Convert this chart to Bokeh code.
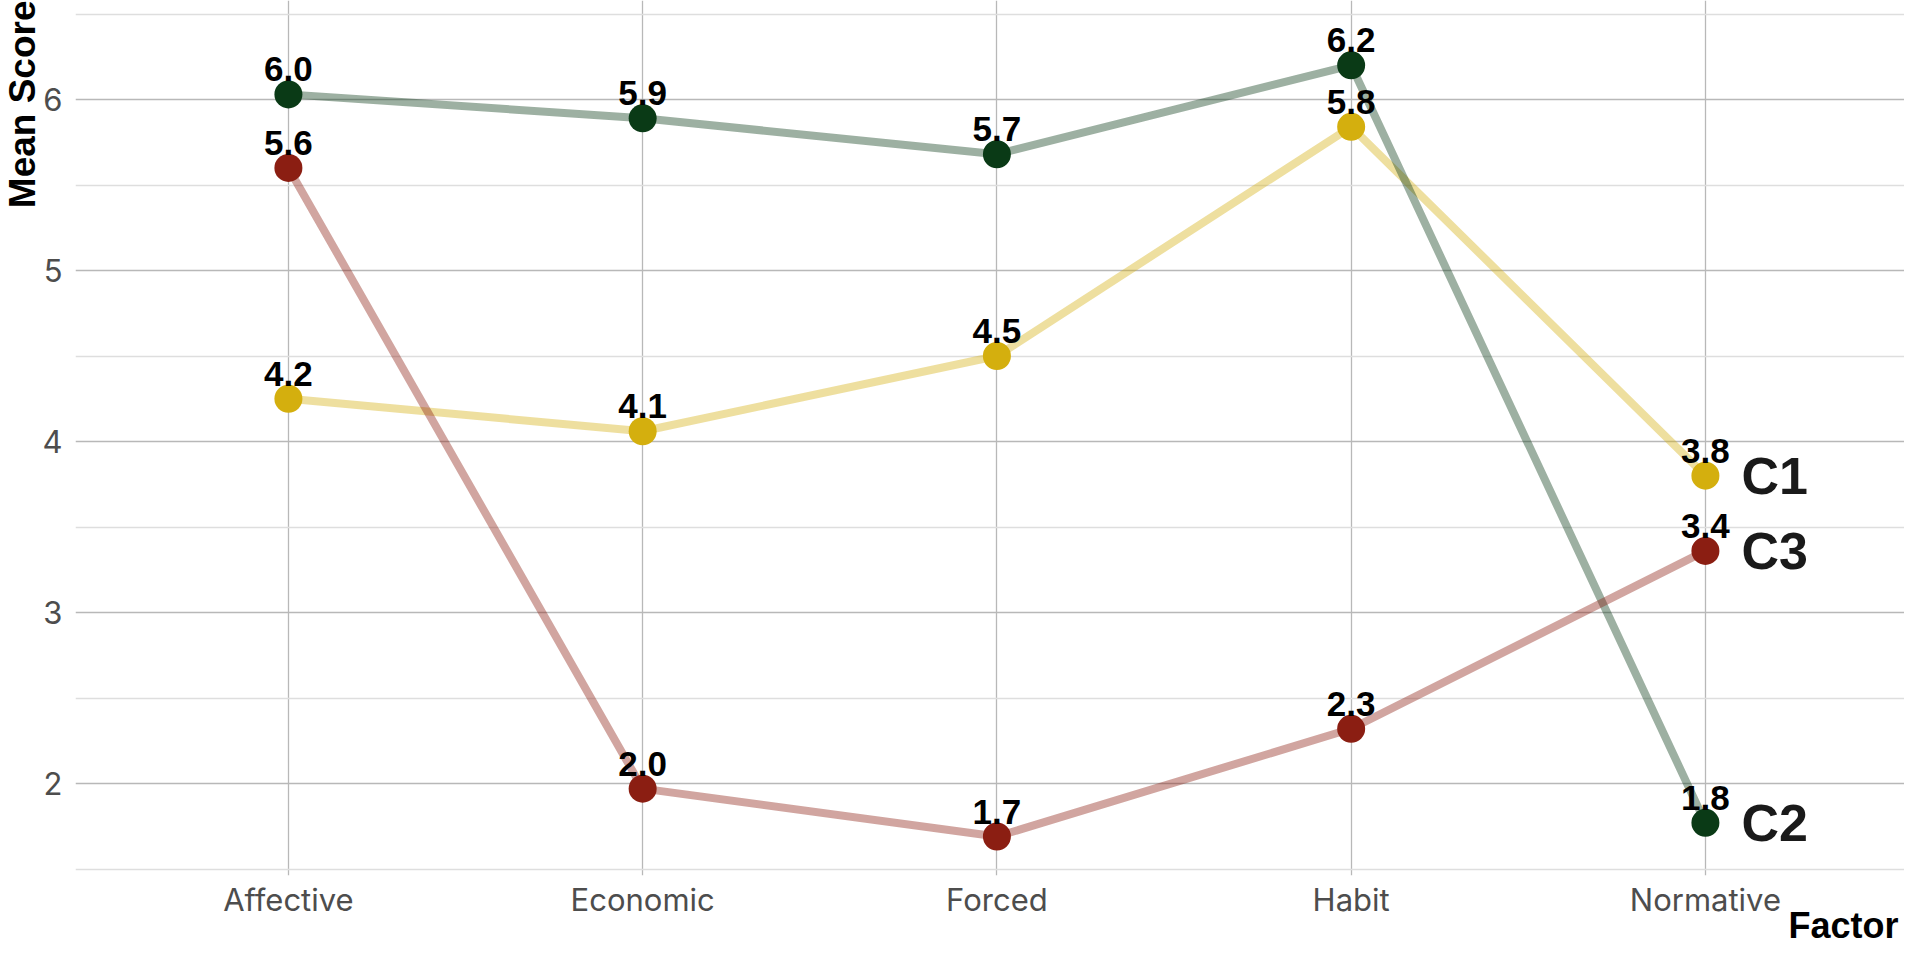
from bokeh.plotting import figure
from bokeh.models import Range1d, FixedTicker, Title, ColumnDataSource
from bokeh.core.properties import value
from bokeh.embed import file_html
from bokeh.resources import INLINE

# ---- data ----
factors = ["Affective", "Economic", "Forced", "Habit", "Normative"]
clusters = ["C1", "C2", "C3"]
c1_scores = [4.25, 4.06, 4.50, 5.84, 3.80]
c2_scores = [6.03, 5.89, 5.68, 6.20, 1.77]
c3_scores = [5.60, 1.97, 1.69, 2.32, 3.36]
y_ticks = [2, 3, 4, 5, 6]
y_minor_ticks = [1.5, 2.5, 3.5, 4.5, 5.5, 6.5]
x_title = "Factor"
y_title = "Mean Score"

series = {"C1": c1_scores, "C2": c2_scores, "C3": c3_scores}
colors = {"C1": "#d4af0e", "C2": "#0a3a16", "C3": "#8b1e12"}

TICK_FONT = "Inter"
LABEL_FONT = "Liberation Sans"

x_range = Range1d(-0.601, 4.562)
y_range = Range1d(1.462, 6.579)
p = figure(width=1904, height=944, output_backend="svg", toolbar_location=None,
           x_range=x_range, y_range=y_range,
           min_border_left=75, min_border_right=0, min_border_top=0, min_border_bottom=69)
p.outline_line_color = None
p.background_fill_color = "white"
p.border_fill_color = "white"

xs = list(range(len(factors)))

# lines first
for c in clusters:
    p.line(xs, series[c], line_color=colors[c], line_alpha=0.4, line_width=8)
# points
for c in clusters:
    p.scatter(xs, series[c], size=28, fill_color=colors[c], line_color=None)
# value labels
for c in clusters:
    src = ColumnDataSource(dict(x=xs, y=series[c], t=[f"{v:.1f}" for v in series[c]]))
    p.text(x="x", y="y", text="t", source=src, text_align="center", text_baseline="middle",
           y_offset=-25, text_font=value(LABEL_FONT), text_font_style="bold",
           text_font_size="35px", text_color="black")
# cluster end labels
end_src = ColumnDataSource(dict(x=[xs[-1]] * len(clusters),
                                y=[series[c][-1] for c in clusters],
                                t=clusters))
p.text(x="x", y="y", text="t", source=end_src, text_align="left", text_baseline="middle",
       x_offset=36, y_offset=0, text_font=value(LABEL_FONT), text_font_style="bold",
       text_font_size="52px", text_color="#1a1a1a")

# axes
p.xaxis.ticker = FixedTicker(ticks=xs)
p.xaxis.major_label_overrides = {i: f for i, f in enumerate(factors)}
p.yaxis.ticker = FixedTicker(ticks=y_ticks, minor_ticks=y_minor_ticks)
for ax in (p.xaxis[0], p.yaxis[0]):
    ax.axis_line_color = None
    ax.major_tick_line_color = None
    ax.minor_tick_line_color = None
    ax.major_tick_out = 0
    ax.minor_tick_out = 0
    ax.major_label_text_font = TICK_FONT
    ax.major_label_text_font_size = "31px"
    ax.major_label_text_color = "#4d4d4d"
p.yaxis.major_label_standoff = 13
p.xaxis.major_label_standoff = 5

# grid
p.xgrid.grid_line_color = "#b8b8b8"
p.xgrid.grid_line_width = 1.3
p.ygrid.grid_line_color = "#b8b8b8"
p.ygrid.grid_line_width = 1.3
p.ygrid.minor_grid_line_color = "#dedede"
p.ygrid.minor_grid_line_width = 1.3

# axis titles
p.add_layout(Title(text=y_title, align="right", text_font=LABEL_FONT, text_font_style="bold",
                   text_font_size="37px", text_color="black", standoff=-6, offset=0), "left")
p.add_layout(Title(text=x_title, align="right", text_font=LABEL_FONT, text_font_style="bold",
                   text_font_size="36px", text_color="black", standoff=-36, offset=6), "below")

open("out.html", "w").write(file_html(p, INLINE))
